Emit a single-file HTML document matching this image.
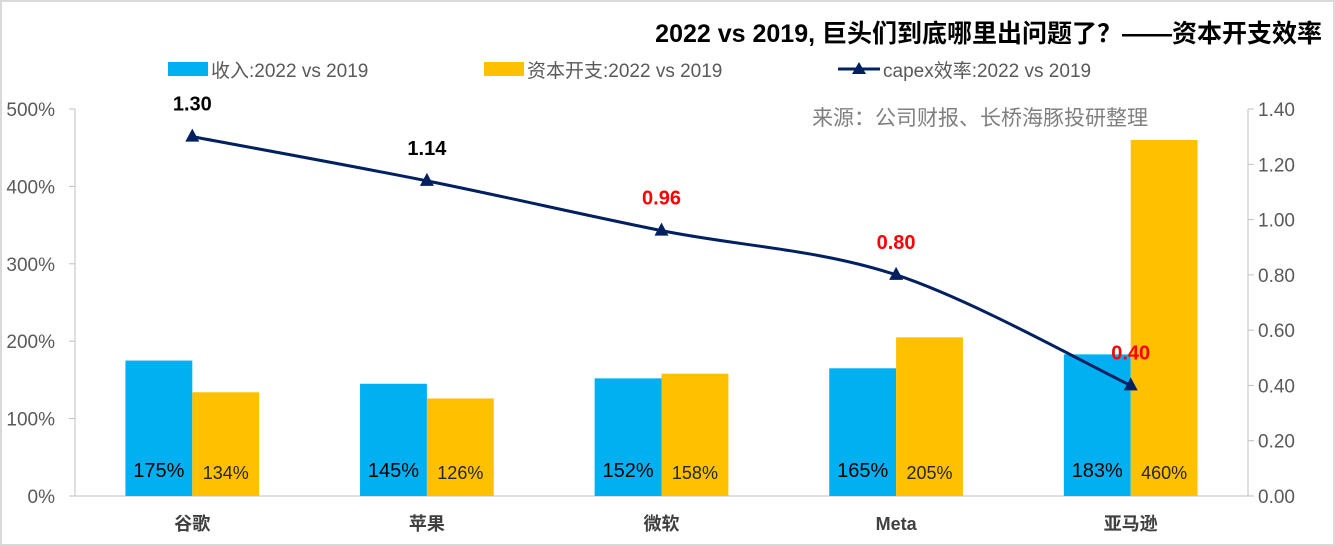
<!DOCTYPE html>
<html><head><meta charset="utf-8"><style>
body{margin:0;background:#fff}
svg{display:block;font-family:"Liberation Sans","Noto Sans CJK SC",sans-serif}
</style></head><body>
<svg id="c" width="1335" height="546" xmlns="http://www.w3.org/2000/svg">
<rect x="1" y="1" width="1333" height="544" fill="#fff" stroke="#d9d9d9" stroke-width="2"/>
<text x="1322" y="42" text-anchor="end" font-size="25" font-weight="bold" fill="#000">2022 vs 2019, 巨头们到底哪里出问题了？——资本开支效率</text>
<text x="1148" y="125" text-anchor="end" font-size="21" fill="#7f7f7f">来源：公司财报、长桥海豚投研整理</text>
<g>
<rect x="168" y="62" width="40" height="14" fill="#00B0F0"/>
<text x="211" y="77" font-size="19" fill="#595959">收入:2022 vs 2019</text>
<rect x="484" y="62" width="40" height="14" fill="#FFC000"/>
<text x="527" y="77" font-size="19" fill="#595959">资本开支:2022 vs 2019</text>
<line x1="838" y1="69" x2="880" y2="69" stroke="#002060" stroke-width="3"/>
<polygon points="859,62 866,74 852,74" fill="#002060"/>
<text x="883" y="77" font-size="19" fill="#595959">capex效率:2022 vs 2019</text>
</g>
<g id="plot"></g>
</svg>
<script>
const categories=["谷歌","苹果","微软","Meta","亚马逊"];
const revenue=[175,145,152,165,183];
const capex=[134,126,158,205,460];
const efficiency=[1.30,1.14,0.96,0.80,0.40];
const leftTicks=[0,100,200,300,400,500];
const rightTicks=[0,0.2,0.4,0.6,0.8,1.0,1.2,1.4];
const effColors=["#000","#000","#FF0000","#FF0000","#FF0000"];

const X0=75,X1=1248,Y0=496,Y1=109;
const band=(X1-X0)/categories.length;
const cx=i=>X0+band*(i+0.5);
const yL=v=>Y0-(v/500)*(Y0-Y1);
const yR=v=>Y0-(v/1.4)*(Y0-Y1);
const NS="http://www.w3.org/2000/svg";
const g=document.getElementById('plot');
function mk(t,a,txt){const e=document.createElementNS(NS,t);for(const k in a)e.setAttribute(k,a[k]);if(txt!==undefined)e.textContent=txt;g.appendChild(e);return e;}

// axes
let e=mk('line',{x1:X0,y1:Y1,x2:X0,y2:Y0,stroke:'#bfbfbf'});


e=mk('line',{x1:X1,y1:Y1,x2:X1,y2:Y0,stroke:'#bfbfbf'});


e=mk('line',{x1:X0,y1:Y0,x2:X1,y2:Y0,stroke:'#bfbfbf'});


leftTicks.forEach(v=>{
  const y=yL(v);
  let t=mk('line',{x1:X0-6,y1:y,x2:X0,y2:y,stroke:'#bfbfbf'});
  
  
  t=mk('text',{x:55,y:y+7,'text-anchor':'end','font-size':19,fill:'#595959'},v+'%');
  
  
});
rightTicks.forEach(v=>{
  const y=yR(v);
  let t=mk('line',{x1:X1,y1:y,x2:X1+6,y2:y,stroke:'#bfbfbf'});
  
  
  t=mk('text',{x:1258,y:y+7,'font-size':19,fill:'#595959'},v.toFixed(2));
  
  
});
const bw=band*0.285;
categories.forEach((c,i)=>{
  const x=cx(i);
  let t=mk('text',{x:x,y:530,'text-anchor':'middle','font-size':18,'font-weight':'bold',fill:'#404040'},c);
  
  
  let b=mk('rect',{x:x-bw,y:yL(revenue[i]),width:bw,height:Y0-yL(revenue[i]),fill:'#00B0F0'});
  
  
  b=mk('rect',{x:x,y:yL(capex[i]),width:bw,height:Y0-yL(capex[i]),fill:'#FFC000'});
  
  
  t=mk('text',{x:x-bw/2,y:477,'text-anchor':'middle','font-size':20,fill:'#000'},revenue[i]+'%');
  
  
  t=mk('text',{x:x+bw/2,y:479,'text-anchor':'middle','font-size':18,fill:'#262626'},capex[i]+'%');
  
  
});
// smooth line
const pts=efficiency.map((v,i)=>[cx(i),yR(v)]);
let d='M'+pts[0][0]+','+pts[0][1];
for(let i=0;i<pts.length-1;i++){
  const p0=pts[Math.max(0,i-1)],p1=pts[i],p2=pts[i+1],p3=pts[Math.min(pts.length-1,i+2)];
  const c1=[p1[0]+(p2[0]-p0[0])/6,p1[1]+(p2[1]-p0[1])/6];
  const c2=[p2[0]-(p3[0]-p1[0])/6,p2[1]-(p3[1]-p1[1])/6];
  d+=` C${c1[0]},${c1[1]} ${c2[0]},${c2[1]} ${p2[0]},${p2[1]}`;
}
e=mk('path',{d:d,fill:'none',stroke:'#002060','stroke-width':3});


pts.forEach((p,i)=>{
  let m=mk('polygon',{points:`${p[0]},${p[1]-8} ${p[0]+7},${p[1]+5} ${p[0]-7},${p[1]+5}`,fill:'#002060'});
  
  
  let t=mk('text',{x:p[0],y:p[1]-26,'text-anchor':'middle','font-size':20,'font-weight':'bold',fill:effColors[i]},efficiency[i].toFixed(2));
  
  
});
</script>
</body></html>
